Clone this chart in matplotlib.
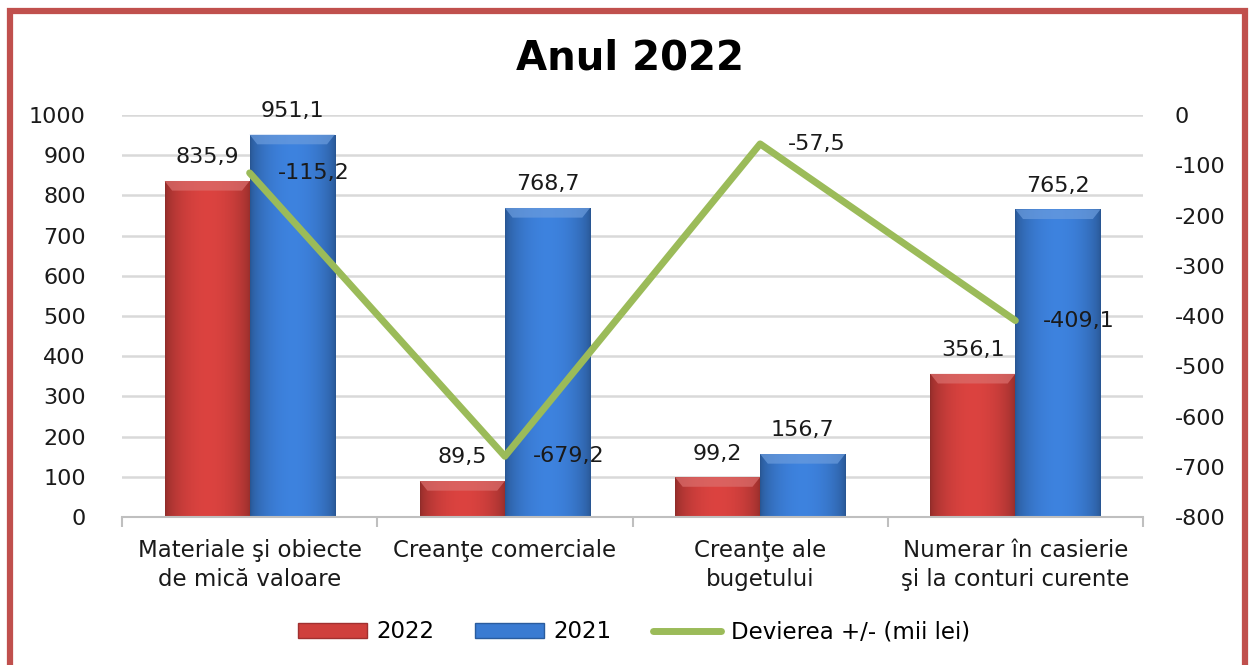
import numpy as np
import matplotlib
matplotlib.use("Agg")
import matplotlib.pyplot as plt
import matplotlib.colors as mcolors
from matplotlib.patches import Rectangle, Polygon, Patch
from matplotlib.lines import Line2D

# ── Data ──────────────────────────────────────────────────────────────────────
categories = ["Materiale şi obiecte\nde mică valoare",
              "Creanţe comerciale",
              "Creanţe ale\nbugetului",
              "Numerar în casierie\nşi la conturi curente"]
val_2022 = [835.9, 89.5, 99.2, 356.1]
val_2021 = [951.1, 768.7, 156.7, 765.2]
deviation = [-115.2, -679.2, -57.5, -409.1]

C_RED = "#CF3F3C"
C_BLUE = "#3A7BD2"
C_GREEN = "#9BBB59"
C_FRAME = "#C0504D"
C_GRID = "#D9D9D9"
C_TEXT = "#1A1A1A"
FS = 16

plt.rcParams["font.family"] = ["DejaVu Sans"]
plt.rcParams["axes.unicode_minus"] = False

fig = plt.figure(figsize=(12.49, 6.65), dpi=100)
fig.patch.set_facecolor("white")
ax = fig.add_axes([122 / 1249, 1 - 517 / 665, (1143 - 122) / 1249, (517 - 115) / 665])
ax2 = ax.twinx()

x = np.arange(len(categories))
w = 1 / 3


def fmt(v):
    return f"{v:.1f}".replace(".", ",")


def shade(bars, base):
    rgb = np.array(mcolors.to_rgb(base))
    t = np.linspace(0, 1, 80)
    prof = 0.70 + 0.36 * np.sin(np.pi * t) ** 0.6
    img = np.clip(rgb[None, :] * prof[:, None], 0, 1)[None, :, :]
    light = np.clip(rgb + (1 - rgb) * 0.25, 0, 1)
    for b in bars:
        x0, y0 = b.get_x(), b.get_y()
        x1, y1 = x0 + b.get_width(), y0 + b.get_height()
        im = ax.imshow(img, extent=(x0, x1, y0, y1), aspect="auto",
                       zorder=2, interpolation="bilinear")
        im.set_clip_path(b)
        dx = b.get_width() * 0.09
        dy = min(24, b.get_height() * 0.4)
        ax.add_patch(Polygon([[x0, y1], [x1, y1], [x1 - dx, y1 - dy],
                              [x0 + dx, y1 - dy]], closed=True,
                             facecolor=light, edgecolor="none", alpha=0.7,
                             zorder=3))


bars22 = ax.bar(x - w / 2, val_2022, w, color=C_RED, edgecolor="none", zorder=2)
bars21 = ax.bar(x + w / 2, val_2021, w, color=C_BLUE, edgecolor="none", zorder=2)
shade(bars22, C_RED)
shade(bars21, C_BLUE)

for b, v in list(zip(bars22, val_2022)) + list(zip(bars21, val_2021)):
    ax.annotate(fmt(v), (b.get_x() + b.get_width() / 2, v),
                xytext=(0, 17), textcoords="offset points",
                ha="center", va="center", fontsize=FS, color=C_TEXT, zorder=5)

ax.set_xlim(-0.5, len(categories) - 0.5)
ax.set_ylim(0, 1000)
ax.set_yticks(np.arange(0, 1001, 100))
ax.yaxis.grid(True, color=C_GRID, lw=1.8)
ax.set_axisbelow(True)
for s in ["top", "left", "right"]:
    ax.spines[s].set_visible(False)
ax.spines["bottom"].set_color("#BFBFBF")
ax.spines["bottom"].set_linewidth(1.5)

ax.set_xticks(x)
ax.set_xticklabels(categories, fontsize=FS + 0.5, color=C_TEXT, linespacing=1.3)
ax.set_xticks(np.arange(-0.5, len(categories)), minor=True)
ax.tick_params(axis="x", which="major", length=0, pad=16)
ax.tick_params(axis="x", which="minor", length=7, color="#BFBFBF", width=1.5)
ax.tick_params(axis="y", length=0, pad=26, labelsize=FS, labelcolor=C_TEXT)

# ── Deviation line on secondary axis ─────────────────────────────────────────
ax2.plot(x, deviation, color=C_GREEN, lw=5, solid_capstyle="round", zorder=4)
for xi, v in zip(x, deviation):
    ax2.annotate(fmt(v), (xi, v), xytext=(20, 0), textcoords="offset points",
                 ha="left", va="center", fontsize=FS, color=C_TEXT, zorder=5)
ax2.set_ylim(-800, 0)
ax2.set_yticks(np.arange(-800, 1, 100))
ax2.tick_params(axis="y", length=0, pad=23, labelsize=FS, labelcolor=C_TEXT)
for s in ax2.spines.values():
    s.set_visible(False)

# ── Title ────────────────────────────────────────────────────────────────────
fig.text(630 / 1249, 1 - 58 / 665, "Anul 2022", ha="center", va="center",
         fontsize=29, fontweight="bold", color="black")

# ── Legend ───────────────────────────────────────────────────────────────────
handles = [Patch(facecolor=C_RED, edgecolor="#A03030"),
           Patch(facecolor=C_BLUE, edgecolor="#2A5C9E"),
           Line2D([], [], color=C_GREEN, lw=5, solid_capstyle="round")]
fig.legend(handles, ["2022", "2021", "Devierea +/- (mii lei)"],
           loc="center", bbox_to_anchor=(634 / 1249, 1 - 632 / 665), ncol=3,
           frameon=False, handlelength=3.0, handleheight=0.6,
           handletextpad=0.4, columnspacing=1.8,
           prop={"family": "DejaVu Sans", "size": 16.5})

# ── Red frame ────────────────────────────────────────────────────────────────
fig.patches.append(Rectangle((10 / 1249, -0.05), (1245 - 10) / 1249, 1.05 - 11 / 665,
                             transform=fig.transFigure, fill=False,
                             edgecolor=C_FRAME, lw=4.5, zorder=10))

fig.savefig("out.png", dpi=100, facecolor="white")
